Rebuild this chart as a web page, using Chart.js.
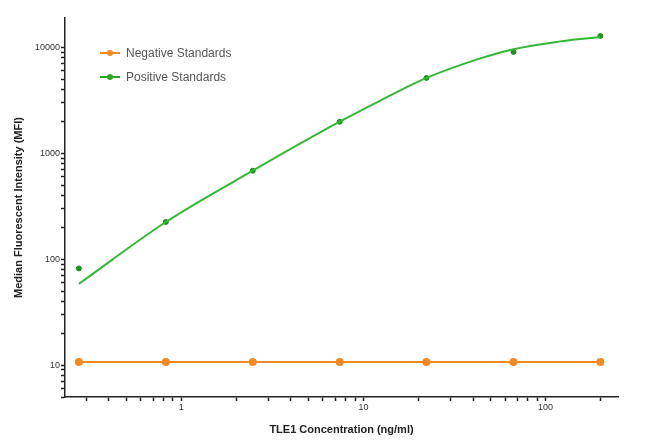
<!DOCTYPE html>
<html>
<head>
<meta charset="utf-8">
<script src="https://cdn.jsdelivr.net/npm/chart.js@4"></script>
<style>
  body { margin: 0; background: #fff; }
  .wrap { position: relative; width: 650px; height: 444px; }
  .legend { position: absolute; left: 100px; top: 44px; font: 12px "Liberation Sans", Arial, sans-serif; color: #555; }
  .legend-row { position: relative; height: 24px; line-height: 18px; padding-left: 26px; }
  .legend-row .mk { position: absolute; left: 0; top: 8px; width: 20px; height: 2px; }
  .legend-row .mk::after { content: ""; position: absolute; left: 7px; top: -2px; width: 6px; height: 6px; border-radius: 50%; background: inherit; }
</style>
</head>
<body>
<div class="wrap">
  <canvas id="chart" width="650" height="444"></canvas>
  <div class="legend">
    <div class="legend-row"><span class="mk" style="background:#f28a24"></span>Negative Standards</div>
    <div class="legend-row"><span class="mk" style="background:#2aa82a"></span>Positive Standards</div>
  </div>
</div>
<script>
// concentrations (ng/ml), 3-fold dilutions
const conc = [0.274, 0.823, 2.47, 7.41, 22.2, 66.7, 200];
const negativeMFI = [10.7, 10.7, 10.7, 10.7, 10.7, 10.7, 10.7];
const positiveMFI = [82, 225, 686, 1990, 5160, 9080, 12850];

// fitted curve
const curveX = [0.274, 0.823, 2.47, 7.41, 12.4, 22.2, 43.9, 66.7, 121, 155.6, 200];
const curveY = [58.5, 225, 686, 1990, 3150, 5160, 7890, 9640, 11430, 12030, 12560];

const xTickLabels = [1, 10, 100];
const yTickLabels = [10, 100, 1000, 10000];

const toXY = (xs, ys) => xs.map((x, i) => ({ x, y: ys[i] }));

function logTicks(scale) {
  const out = [];
  const lo = Math.floor(Math.log10(scale.min));
  const hi = Math.ceil(Math.log10(scale.max));
  for (let e = lo; e <= hi; e++) {
    for (let k = 1; k <= 9; k++) {
      const v = Number((k * Math.pow(10, e)).toPrecision(10));
      if (v >= scale.min && v <= scale.max) out.push({ value: v });
    }
  }
  scale.ticks = out;
}

const tickFont = { family: "Liberation Sans", size: 9 };
const titleFont = { family: "Liberation Sans", size: 11, weight: "bold" };

new Chart(document.getElementById("chart"), {
  type: "scatter",
  data: {
    datasets: [
      {
        label: "Negative Standards",
        data: toXY(conc, negativeMFI),
        showLine: true,
        borderColor: "#f28a24",
        backgroundColor: "#f28a24",
        borderWidth: 2,
        pointRadius: 3,
        pointHoverRadius: 3,
      },
      {
        label: "Positive fit",
        data: toXY(curveX, curveY),
        showLine: true,
        cubicInterpolationMode: "monotone",
        borderColor: "#33b833",
        borderWidth: 2,
        pointRadius: 0,
      },
      {
        label: "Positive Standards",
        data: toXY(conc, positiveMFI),
        showLine: false,
        backgroundColor: "#1f8f1f",
        borderColor: "#1f8f1f",
        pointRadius: 2.5,
        pointHoverRadius: 2.5,
      },
    ],
  },
  options: {
    responsive: false,
    animation: false,
    events: [],
    layout: { padding: { left: 0, right: 32, top: 18, bottom: 0 } },
    plugins: { legend: { display: false }, tooltip: { enabled: false } },
    scales: {
      x: {
        type: "logarithmic",
        min: 0.23,
        max: 250,
        afterBuildTicks: logTicks,
        afterFit: (s) => { s.height = 47; },
        border: { color: "#222", width: 1.5 },
        grid: { drawOnChartArea: false, drawTicks: true, tickLength: 4, tickColor: "#222", tickWidth: 1.5 },
        ticks: {
          autoSkip: false, maxRotation: 0, padding: 1, color: "#333", font: tickFont,
          callback: (v) => (xTickLabels.includes(v) ? String(v) : ""),
        },
        title: { display: true, text: "TLE1 Concentration (ng/ml)", color: "#222", font: titleFont, padding: { top: 0, bottom: 7 } },
      },
      y: {
        type: "logarithmic",
        min: 5,
        max: 19000,
        afterBuildTicks: logTicks,
        afterFit: (s) => { s.width = 65; },
        border: { color: "#222", width: 1.5 },
        grid: { drawOnChartArea: false, drawTicks: true, tickLength: 4, tickColor: "#222", tickWidth: 1.5 },
        ticks: {
          autoSkip: false, padding: 1, color: "#333", font: tickFont,
          callback: (v) => (yTickLabels.includes(v) ? String(v) : ""),
        },
        title: { display: true, text: "Median Fluorescent Intensity (MFI)", color: "#222", font: titleFont, padding: { top: 12, bottom: 0 } },
      },
    },
  },
});
</script>
</body>
</html>
